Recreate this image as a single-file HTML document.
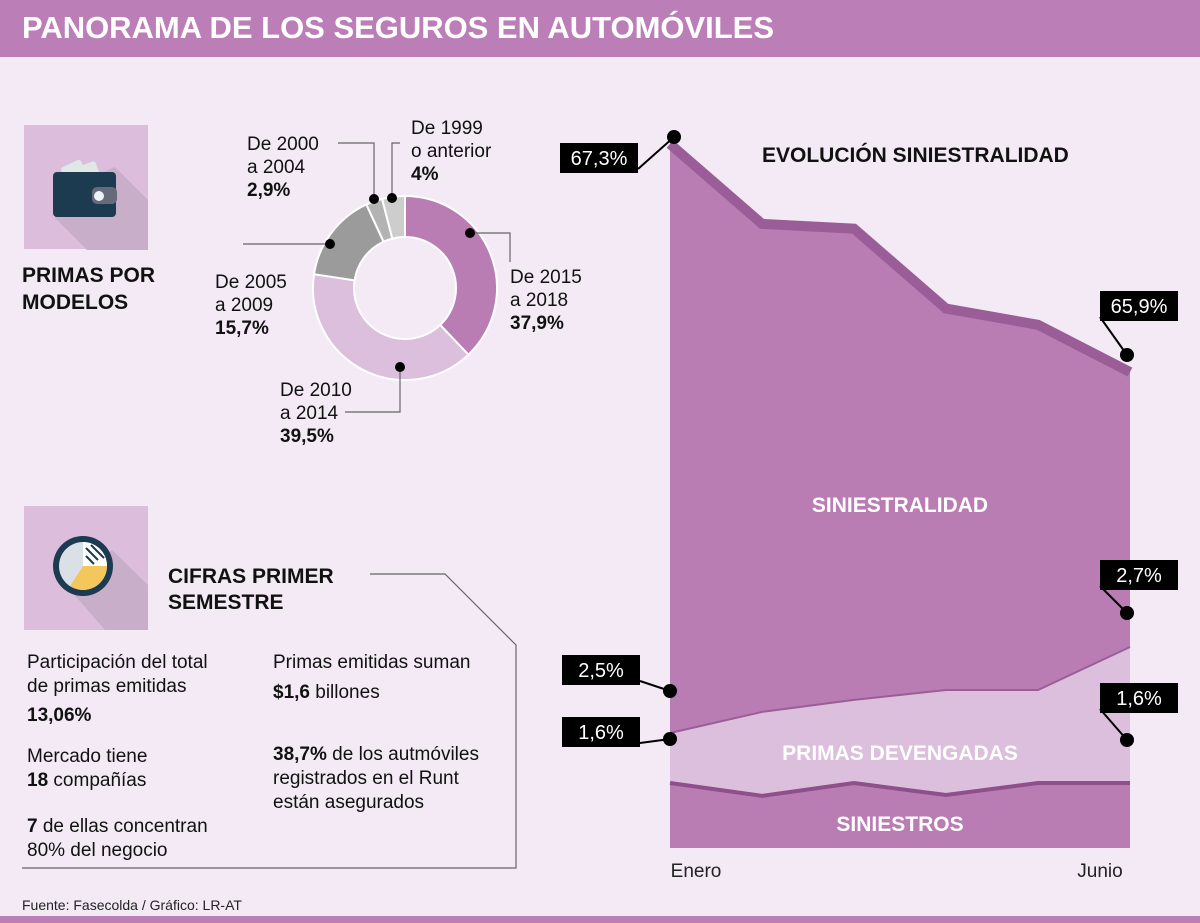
<!DOCTYPE html>
<html><head><meta charset="utf-8">
<style>
body{margin:0;background:#f3eaf5;font-family:"Liberation Sans",sans-serif;}
#wrap{position:relative;width:1200px;height:923px;overflow:hidden;background:#f3eaf5;}
svg text{font-family:"Liberation Sans",sans-serif;}
</style></head>
<body>
<div id="wrap">
<svg id="svg" width="1200" height="923" viewBox="0 0 1200 923">
  <rect x="0" y="0" width="1200" height="57" fill="#bb7eb6"/>
  <text x="22" y="38" font-size="31" font-weight="bold" fill="#fff" textLength="752" lengthAdjust="spacingAndGlyphs">PANORAMA DE LOS SEGUROS EN AUTOMÓVILES</text>
  <rect x="0" y="916" width="1200" height="7" fill="#bb7eb6"/>
  <text x="22" y="910" font-size="14" fill="#222">Fuente: Fasecolda / Gráfico: LR-AT</text>

  <g>
    <rect x="24" y="125" width="124" height="124" fill="#dcbedc"/>
    <polygon points="55,218 87,250 148,250 148,200 115,167 60,190" fill="#c9aec9"/>
    <rect x="62" y="163" width="22" height="14" rx="3" fill="#dfe8e6" transform="rotate(-25 73 170)"/>
    <rect x="76" y="164" width="22" height="14" rx="3" fill="#dfe8e6" transform="rotate(-20 87 171)"/>
    <rect x="53" y="172" width="63" height="45" rx="4" fill="#1d3b50"/>
    <rect x="92" y="187" width="25" height="17" rx="5" fill="#666a7a"/>
    <circle cx="99" cy="196" r="5" fill="#eef3f5"/>
  </g>
  <text font-size="21" font-weight="bold" fill="#111"><tspan x="22" y="282">PRIMAS POR</tspan><tspan x="22" y="309">MODELOS</tspan></text>

  <g>
    <rect x="24" y="506" width="124" height="124" fill="#dcbedc"/>
    <polygon points="70,590 105,630 148,630 148,585 112,550" fill="#c9aec9"/>
    <circle cx="83" cy="566" r="30" fill="#1d3b50"/>
    <circle cx="83" cy="566" r="24" fill="#d9e1e6"/>
    <path d="M83,566 L107,566 A24,24 0 0 1 70,586 Z" fill="#f3c75c"/>
    <path d="M83,566 L83,542 A24,24 0 0 1 107,566 Z" fill="#fff"/>
    <g stroke="#1d3b50" stroke-width="2"><line x1="86" y1="548" x2="98" y2="560"/><line x1="86" y1="556" x2="94" y2="564"/><line x1="91" y1="545" x2="104" y2="558"/></g>
  </g>
  <text font-size="21" font-weight="bold" fill="#111"><tspan x="168" y="583">CIFRAS PRIMER</tspan><tspan x="168" y="609">SEMESTRE</tspan></text>
  <polyline points="370,574 445,574 516,645 516,868 22,868" fill="none" stroke="#666" stroke-width="1.2"/>

  <g font-size="19" fill="#111">
    <text x="27" y="668">Participación del total</text>
    <text x="27" y="692">de primas emitidas</text>
    <text x="27" y="721" font-weight="bold">13,06%</text>
    <text x="27" y="762">Mercado tiene</text>
    <text x="27" y="786"><tspan font-weight="bold">18</tspan> compañías</text>
    <text x="27" y="832"><tspan font-weight="bold">7</tspan> de ellas concentran</text>
    <text x="27" y="856">80% del negocio</text>
    <text x="273" y="668">Primas emitidas suman</text>
    <text x="273" y="698"><tspan font-weight="bold">$1,6</tspan> billones</text>
    <text x="273" y="760"><tspan font-weight="bold">38,7%</tspan> de los autmóviles</text>
    <text x="273" y="784">registrados en el Runt</text>
    <text x="273" y="808">están asegurados</text>
  </g>

  <g id="donut"></g>
  <g id="area"></g>
  <text x="762" y="162" font-size="21" font-weight="bold" fill="#111">EVOLUCIÓN SINIESTRALIDAD</text>
</svg>
</div>
<script>
const NS="http://www.w3.org/2000/svg";
function mk(tag,attrs,parent){const e=document.createElementNS(NS,tag);for(const k in attrs)e.setAttribute(k,attrs[k]);parent.appendChild(e);return e;}

const donutCategories=["De 2015 a 2018","De 2010 a 2014","De 2005 a 2009","De 2000 a 2004","De 1999 o anterior"];
const donutValues=[37.9,39.5,15.7,2.9,4];
const donutLabels=["37,9%","39,5%","15,7%","2,9%","4%"];
const donutColors=["#b97db4","#dcbedd","#9b9b9b","#b3b3b3","#cdcdcd"];

const dg=document.getElementById('donut');
const cx=405,cy=288,R=92,r=51;
const tot=donutValues.reduce((a,b)=>a+b,0);
let acc=0;
donutValues.forEach((v,i)=>{
  const a0=acc/tot*2*Math.PI-Math.PI/2; acc+=v; const a1=acc/tot*2*Math.PI-Math.PI/2;
  const lg=(a1-a0)>Math.PI?1:0;
  const d=`M${cx+R*Math.cos(a0)},${cy+R*Math.sin(a0)} A${R},${R} 0 ${lg} 1 ${cx+R*Math.cos(a1)},${cy+R*Math.sin(a1)} L${cx+r*Math.cos(a1)},${cy+r*Math.sin(a1)} A${r},${r} 0 ${lg} 0 ${cx+r*Math.cos(a0)},${cy+r*Math.sin(a0)} Z`;
  const p=mk('path',{d:d,fill:donutColors[i],stroke:'#fff','stroke-width':2},dg);
  
  
});
const leaders=[
  {i:0,pts:[[470,233],[510,233],[510,262]],tx:510,ty:283,lines:["De 2015","a 2018"]},
  {i:1,pts:[[400,367],[400,412],[345,412]],tx:280,ty:396,lines:["De 2010","a 2014"]},
  {i:2,pts:[[330,244],[243,244]],tx:215,ty:288,lines:["De 2005","a 2009"]},
  {i:3,pts:[[374,199],[374,143],[338,143]],tx:247,ty:150,lines:["De 2000","a 2004"]},
  {i:4,pts:[[392,198],[392,143],[400,143]],tx:411,ty:134,lines:["De 1999","o anterior"]}
];
leaders.forEach(L=>{
  const p=L.pts[0];
  const pl=mk('polyline',{points:L.pts.map(q=>q.join(',')).join(' '),fill:'none',stroke:'#666','stroke-width':1.2},dg);
  
  
  const c=mk('circle',{cx:p[0],cy:p[1],r:5,fill:'#000'},dg);
  
  
  const t=mk('text',{'font-size':19,fill:'#111'},dg);
  
  
  L.lines.concat([donutLabels[L.i]]).forEach((s,k)=>{const ts=mk('tspan',{x:L.tx,y:L.ty+k*23},t);if(k==2)ts.setAttribute('font-weight','bold');ts.textContent=s;});
});

const months=["Enero","Feb","Mar","Abr","May","Junio"];
const siniestralidad=[67.3,66.81,66.78,66.29,66.19,65.9];
const primasDevengadas=[2.5,2.549,2.577,2.6,2.6,2.7];
const siniestros=[1.6,1.57,1.6,1.572,1.6,1.6];

const ag=document.getElementById('area');
const x0=670,x1=1130;
const xs=i=>x0+(x1-x0)*i/(months.length-1);
const yTop=v=>140+(67.3-v)*162.9;
const yLow=v=>733-(v-2.5)*430;
const ySin=v=>783-(v-1.6)*430;
const base=848;
function line(arr,f){return arr.map((v,i)=>`${xs(i)},${f(v)}`).join(' L');}
let p=mk('path',{d:`M${x0},${base} L${line(siniestralidad,yTop)} L${x1},${base} Z`,fill:'#b97db4'},ag);


p=mk('path',{d:`M${line(siniestralidad,yTop)}`,fill:'none',stroke:'#9b5d97','stroke-width':10,transform:'translate(0,4)'},ag);


p=mk('path',{d:`M${x0},${base} L${line(primasDevengadas,yLow)} L${x1},${base} Z`,fill:'#dcbedd'},ag);


p=mk('path',{d:`M${line(primasDevengadas,yLow)}`,fill:'none',stroke:'#9b5d97','stroke-width':2},ag);


p=mk('path',{d:`M${x0},${base} L${line(siniestros,ySin)} L${x1},${base} Z`,fill:'#b97db4'},ag);


p=mk('path',{d:`M${line(siniestros,ySin)}`,fill:'none',stroke:'#8e4f8b','stroke-width':4},ag);



function txt(x,y,s,attrs,name){const t=mk('text',Object.assign({x:x,y:y},attrs),ag);t.textContent=s;return t;}
txt(900,512,"SINIESTRALIDAD",{'font-size':21,'font-weight':'bold',fill:'#fff','text-anchor':'middle'},'siniestralidad-label');
txt(900,760,"PRIMAS DEVENGADAS",{'font-size':21,'font-weight':'bold',fill:'#fff','text-anchor':'middle'},'primas-devengadas-label');
txt(900,831,"SINIESTROS",{'font-size':21,'font-weight':'bold',fill:'#fff','text-anchor':'middle'},'siniestros-label');
txt(x0+26,877,months[0],{'font-size':19,fill:'#222','text-anchor':'middle'},'x-tick-label');
txt(x1-30,877,months[5],{'font-size':19,fill:'#222','text-anchor':'middle'},'x-tick-label');

function callout(px,py,bx,by,label,leftSide){
  const bw=78,bh=30;
  const g=mk('g',{},ag);
  
  
  const ex=leftSide?bx+bw:bx, ey=by+bh-4;
  mk('line',{x1:px,y1:py,x2:ex,y2:ey,stroke:'#000','stroke-width':2},g);
  mk('rect',{x:bx,y:by,width:bw,height:bh,fill:'#000'},g);
  mk('circle',{cx:px,cy:py,r:7,fill:'#000'},g);
  const t=mk('text',{x:bx+bw/2,y:by+22,'font-size':20,fill:'#fff','text-anchor':'middle'},g);
  t.textContent=label;
}
const fmt=v=>v.toFixed(1).replace('.',',')+'%';
callout(674,137,560,143,fmt(siniestralidad[0]),true);
callout(1127,355,1100,291,fmt(siniestralidad[5]),false);
callout(670,691,562,655,fmt(primasDevengadas[0]),true);
callout(1127,613,1100,560,fmt(primasDevengadas[5]),false);
callout(670,739,562,717,fmt(siniestros[0]),true);
callout(1127,740,1100,683,fmt(siniestros[5]),false);
</script>
</body></html>
